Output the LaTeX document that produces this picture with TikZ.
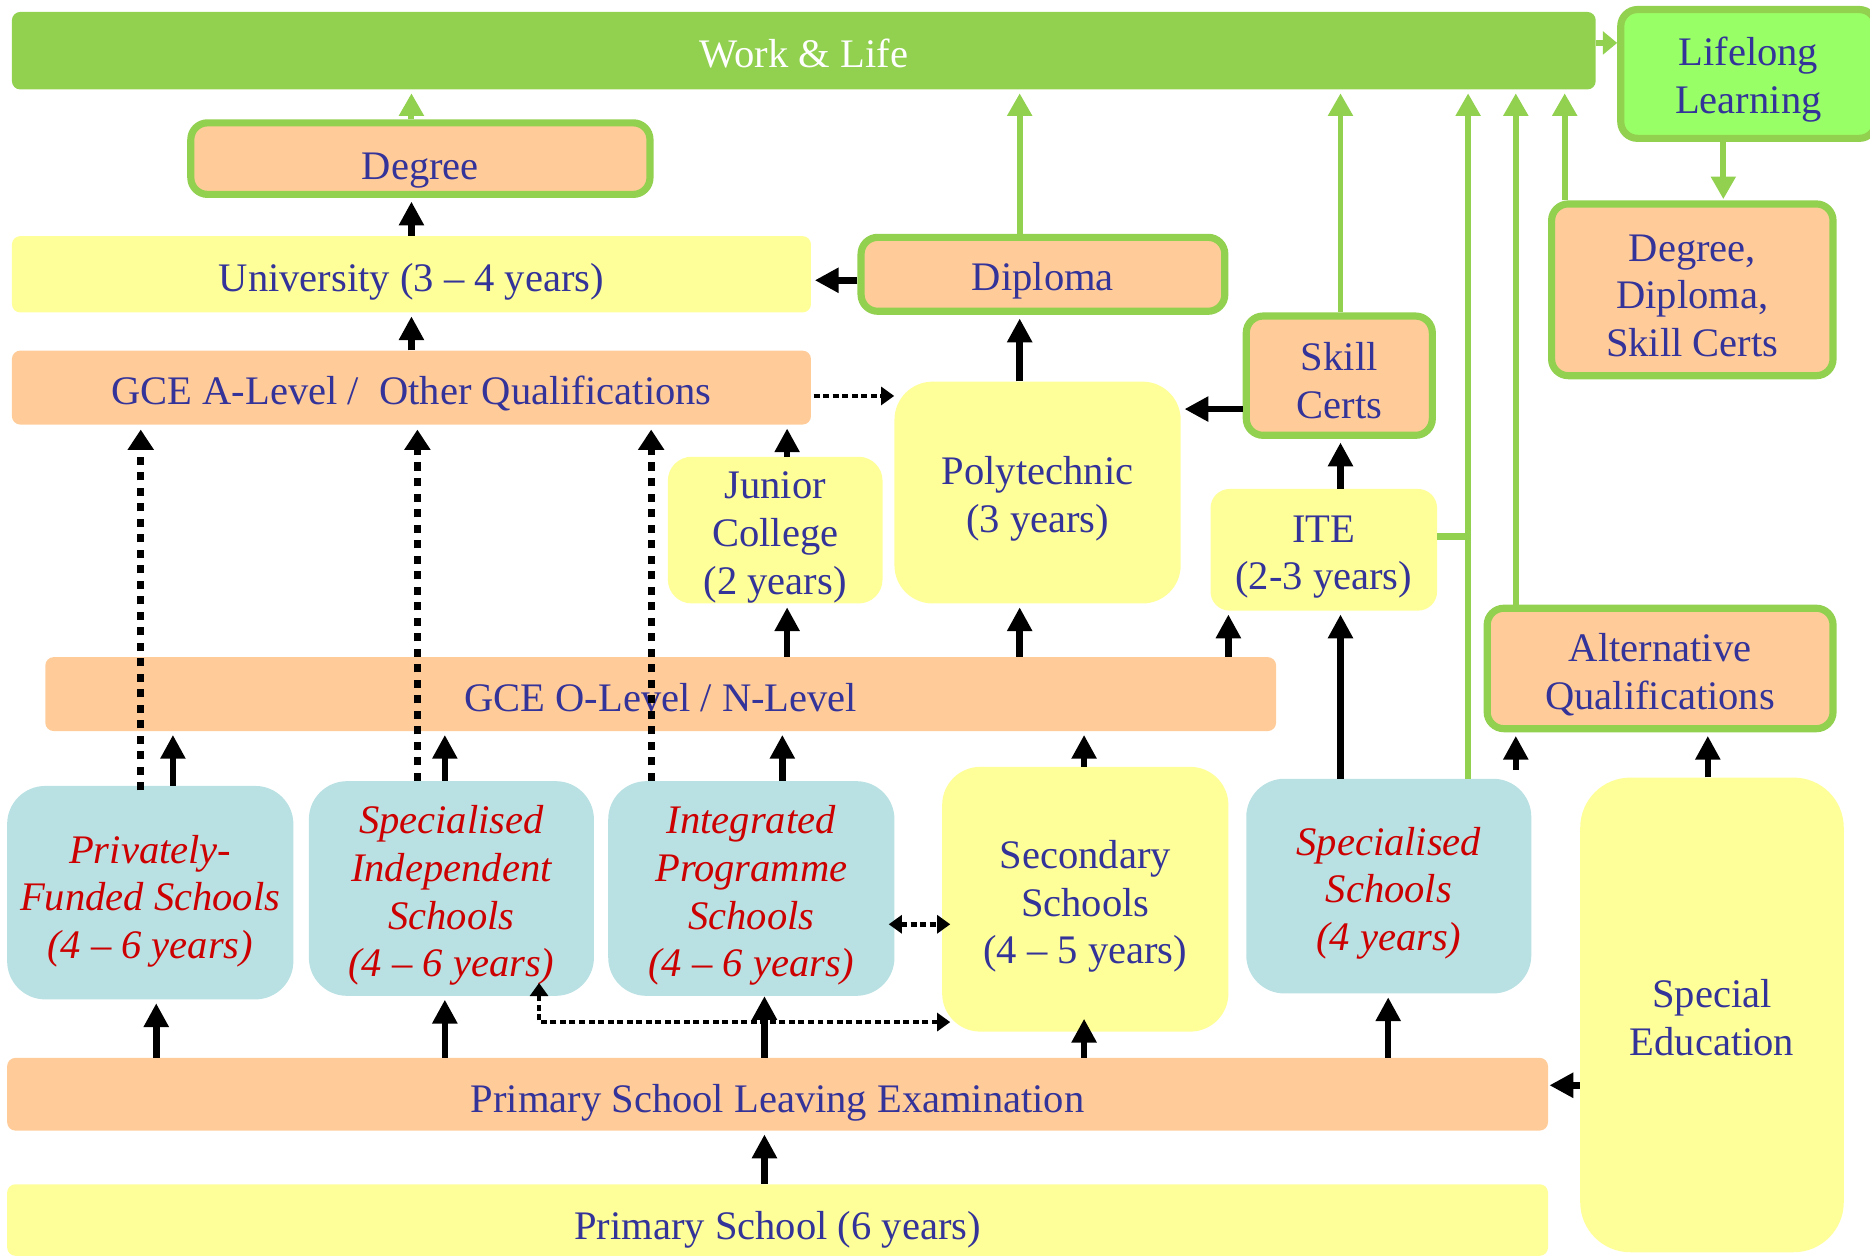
\documentclass[tikz,border=0pt]{standalone}
\usepackage{fontspec}
\setmainfont{Liberation Serif}
\usetikzlibrary{arrows.meta,calc}
\definecolor{peach}{RGB}{255,204,153}
\definecolor{lyellow}{RGB}{255,255,153}
\definecolor{lblue}{RGB}{185,224,226}
\definecolor{lgreen}{RGB}{146,208,80}
\definecolor{bgreen}{RGB}{153,255,102}
\definecolor{txtblue}{RGB}{51,51,153}
\definecolor{txtred}{RGB}{204,0,0}
\tikzset{hd/.tip={Triangle[length=11pt,width=15pt]}}

\begin{document}
\begin{tikzpicture}[x=1pt,y=-1pt,
  base/.style={rectangle, inner sep=0pt},
  txt/.style={rectangle, inner sep=0pt, align=center, text=txtblue,
    font=\fontsize{34}{40}\selectfont},
  redtxt/.style={txt, text=txtred, font=\fontsize{34}{40}\selectfont\itshape},
  bar/.style={base, rounded corners=7pt},
  framed/.style={base, draw=lgreen, line width=6pt, rounded corners=14pt, fill=peach},
  tall/.style={base, rounded corners=32pt},
  school/.style={tall, fill=lblue},
  blk/.style={draw=black, line width=5.5pt, -{Triangle[length=20pt,width=20pt]}, shorten >=3pt},
  grn/.style={draw=lgreen, line width=5pt, -{Triangle[length=19pt,width=20pt]}, shorten >=3pt},
  grnline/.style={draw=lgreen, line width=6pt},
  dotv/.style={draw=black, line width=6pt, dash pattern=on 7pt off 6pt,
    -{Triangle[length=17pt,width=21pt]}, shorten >=4pt},
  doth/.style={draw=black, line width=4pt, dash pattern=on 5pt off 3pt},
]
\useasboundingbox (0,0) rectangle (1568,1055);

% ---- boxes ----
\node[bar, fill=lgreen, minimum width=1328pt, minimum height=65pt] (work) at (674,42.5) {};
\node[base, draw=lgreen, line width=6pt, rounded corners=14pt, fill=bgreen,
      minimum width=214pt, minimum height=108pt] (life) at (1466,62) {};
\node[framed, minimum width=385pt, minimum height=60pt] (deg) at (352.5,133) {};
\node[bar, fill=lyellow, minimum width=670pt, minimum height=64pt] (uni) at (345,230) {};
\node[framed, minimum width=305pt, minimum height=62pt] (dip) at (874.5,230) {};
\node[bar, fill=peach, minimum width=670pt, minimum height=62pt] (alev) at (345,325) {};
\node[tall, fill=lyellow, minimum width=240pt, minimum height=186pt] (poly) at (870,413) {};
\node[framed, minimum width=156pt, minimum height=100pt] (skill) at (1123,315) {};
\node[base, rounded corners=16pt, fill=lyellow, minimum width=190pt, minimum height=102pt] (ite) at (1110,461) {};
\node[base, rounded corners=20pt, fill=lyellow, minimum width=180pt, minimum height=123pt] (jc) at (650,444.5) {};
\node[bar, fill=peach, minimum width=1032pt, minimum height=62pt] (olev) at (554,582) {};
\node[tall, fill=lyellow, minimum width=240pt, minimum height=222pt] (sec) at (910,754) {};
\node[school, minimum width=240pt, minimum height=179pt] (priv) at (126,748.5) {};
\node[school, minimum width=239pt, minimum height=180pt] (sis) at (378.5,745) {};
\node[school, minimum width=240pt, minimum height=180pt] (ip) at (630,745) {};
\node[school, minimum width=239pt, minimum height=180pt] (spec) at (1164.5,743) {};
\node[framed, minimum width=290pt, minimum height=101pt] (alt) at (1392,560.5) {};
\node[framed, minimum width=236pt, minimum height=144pt] (dds) at (1419,243) {};
\node[base, rounded corners=42pt, fill=lyellow, minimum width=221pt, minimum height=398pt] (sped) at (1435.5,851) {};
\node[bar, fill=peach, minimum width=1292pt, minimum height=61pt] (psle) at (652,917.5) {};
\node[bar, fill=lyellow, minimum width=1292pt, minimum height=60pt] (prim) at (652,1023) {};

% ---- box texts ----
\node[txt, text=white] (work-t) at ($(work.center)+(0,2)$) {Work \& Life};
\node[txt] (life-t) at ($(life.center)+(0,5)$) {Lifelong\\Learning};
\node[txt] (deg-t) at ($(deg.center)+(0,10)$) {Degree};
\node[txt] (uni-t) at ($(uni.center)+(0,6)$) {University (3 – 4 years)};
\node[txt] (dip-t) at ($(dip.center)+(0,5)$) {Diploma};
\node[txt] (alev-t) at ($(alev.center)+(0,5)$) {GCE A-Level /\ \ Other Qualifications};
\node[txt] (poly-t) at ($(poly.center)+(0,5)$) {Polytechnic\\(3 years)};
\node[txt] (skill-t) at ($(skill.center)+(0,4)$) {Skill\\Certs};
\node[txt] (ite-t) at ($(ite.center)+(0,6)$) {ITE\\(2-3 years)};
\node[txt] (jc-t) at ($(jc.center)+(0,6)$) {Junior\\College\\(2 years)};
\node[txt] (olev-t) at ($(olev.center)+(0,3)$) {GCE O-Level / N-Level};
\node[txt] (sec-t) at ($(sec.center)+(0,6)$) {Secondary\\Schools\\(4 – 5 years)};
\node[redtxt] (priv-t) at ($(priv.center)+(0,7)$) {Privately-\\Funded Schools\\(4 – 6 years)};
\node[redtxt] (sis-t) at ($(sis.center)+(0,6)$) {Specialised\\Independent\\Schools\\(4 – 6 years)};
\node[redtxt] (ip-t) at ($(ip.center)+(0,6)$) {Integrated\\Programme\\Schools\\(4 – 6 years)};
\node[redtxt] (spec-t) at ($(spec.center)+(0,6)$) {Specialised\\Schools\\(4 years)};
\node[txt] (alt-t) at ($(alt.center)+(0,5)$) {Alternative\\Qualifications};
\node[txt] (dds-t) at ($(dds.center)+(0,5)$) {Degree,\\Diploma,\\Skill Certs};
\node[txt] (sped-t) at ($(sped.center)+(0,2)$) {Special\\Education};
\node[txt] (psle-t) at ($(psle.center)+(0,7)$) {Primary School Leaving Examination};
\node[txt] (prim-t) at ($(prim.center)+(0,8)$) {Primary School (6 years)};

% ---- green paths into Work & Life ----
\draw[grn] (deg.north -| 345,0) -- (work.south -| 345,0);
\draw[grn] (dip.north -| 855,0) -- (work.south -| 855,0);
\draw[grn] (skill.north -| 1124,0) -- (work.south -| 1124,0);
\draw[grn] (spec.north -| 1231,0) -- (work.south -| 1231,0);
\draw[grn] (alt.north -| 1271,0) -- (work.south -| 1271,0);
\draw[grn] (dds.north -| 1312,0) -- (work.south -| 1312,0);
\coordinate (itejoin) at (1233,450);
\draw[grnline] (ite.east |- itejoin) -- (itejoin);
\draw[draw=lgreen, line width=5pt, -{Triangle[length=12pt,width=19pt]}] (work.east |- 0,36) -- (life.west |- 0,36);
\draw[grn, shorten >=1pt] (life.south -| 1445,0) -- (dds.north -| 1445,0);

% ---- solid progression arrows ----
\draw[blk] (uni.north -| 345,0) -- (deg.south -| 345,0);
\draw[blk] (alev.north -| 345,0) -- (uni.south -| 345,0);
\draw[blk] (dip.west |- 0,235) -- (uni.east |- 0,235);
\draw[blk] (poly.north -| 855,0) -- (dip.south -| 855,0);
\draw[blk] (skill.west |- 0,343) -- (poly.east |- 0,343);
\draw[blk] (ite.north -| 1124,0) -- (skill.south -| 1124,0);
\draw[blk] (jc.north -| 660,0) -- (alev.south -| 660,0);
\draw[blk] (olev.north -| 660,0) -- (jc.south -| 660,0);
\draw[blk] (olev.north -| 855,0) -- (poly.south -| 855,0);
\draw[blk] (olev.north -| 1030,0) -- (ite.south -| 1030,0);
\draw[blk] (sec.north -| 909,0) -- (olev.south -| 909,0);
\draw[blk] (priv.north -| 145,0) -- (olev.south -| 145,0);
\draw[blk] (sis.north -| 373,0) -- (olev.south -| 373,0);
\draw[blk] (ip.north -| 656,0) -- (olev.south -| 656,0);
\draw[blk] (spec.north -| 1124,0) -- (ite.south -| 1124,0);
\draw[blk, shorten <=7pt] (spec.north -| 1271,0) -- (alt.south -| 1271,0);
\draw[blk] (sped.north -| 1432,0) -- (alt.south -| 1432,0);
\draw[blk, shorten >=1pt] (sped.west |- 0,910) -- (psle.east |- 0,910);
\draw[blk] (psle.north -| 131,0) -- (priv.south -| 131,0);
\draw[blk] (psle.north -| 373,0) -- (sis.south -| 373,0);
\draw[blk, shorten >=0pt] (psle.north -| 641,0) -- (ip.south -| 641,0);
\draw[blk, shorten >=-11pt] (psle.north -| 909,0) -- (sec.south -| 909,0);
\draw[blk] (psle.north -| 1164,0) -- (spec.south -| 1164,0);
\draw[blk] (prim.north -| 641,0) -- (psle.south -| 641,0);

% ---- dotted alternative routes ----
\draw[dotv, shorten <=-4pt] (priv.north -| 118,0) -- (alev.south -| 118,0);
\draw[dotv] (sis.north -| 350,0) -- (alev.south -| 350,0);
\draw[dotv] (ip.north -| 546,0) -- (alev.south -| 546,0);
\draw[doth, -{hd}, shorten <=2pt] (alev.east |- 0,332) -- (poly.west |- 0,332);
\draw[doth, {hd}-{hd}, shorten <=-5pt, shorten >=-7pt] (ip.east |- 0,775) -- (sec.west |- 0,775);
\coordinate (bend) at (452,857);
\draw[doth, {hd}-{hd}, shorten <=-7pt] (sec.west |- bend) -- (bend) -- ($(sis.south -| bend)+(0,-11)$);
\end{tikzpicture}
\end{document}
